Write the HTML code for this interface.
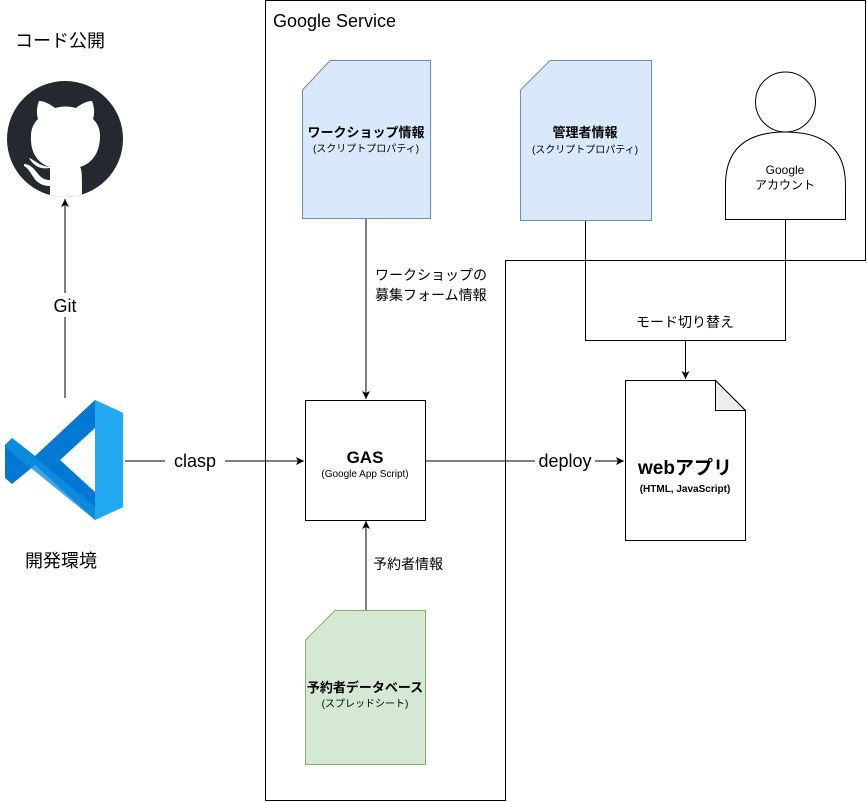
<!DOCTYPE html>
<html><head><meta charset="utf-8"><style>
body{margin:0;background:#fff}
svg{display:block;font-family:"Liberation Sans","Noto Sans CJK JP",sans-serif}
</style></head><body>
<svg width="867" height="802" viewBox="0 0 867 802" xmlns="http://www.w3.org/2000/svg">
<defs><marker id="a" markerWidth="10" markerHeight="10" refX="9" refY="5" orient="auto" markerUnits="userSpaceOnUse"><path d="M1,1 L9,5 L1,9 L3,5 Z" fill="#000"/></marker>
<clipPath id="gc"><circle cx="65" cy="139" r="58"/></clipPath></defs>
<path d="M265.5,0.5 H865.5 V260.5 H505.5 V800.5 H265.5 Z" fill="none" stroke="#000"/>
<text x="273" y="27" font-size="18">Google  Service</text>
<text x="15" y="47" font-size="18">コード公開</text>
<text x="25" y="567" font-size="18">開発環境</text>
<!-- github -->
<circle cx="65" cy="139" r="58" fill="#24292f"/>
<g clip-path="url(#gc)">
<path d="M50,200 L50,168 C38,170 33,164 29,158 C35,160 39,166 50,167 C40,164 30,155 31,136 C31,128 34,123 38,119 C36,113 37,106 39,101 C44,101 50,104 55,108 C62,106 69,106 76,108 C81,104 87,101 92,101 C94,106 95,113 93,119 C97,123 100,128 100,136 C100,155 90,164 80,167 C82,170 82,174 82,200 Z" fill="#fff"/>
<path d="M24,164 C32,164 36,172 40,176 C44,180 48,180 50,180 V186 C44,186 38,184 34,178 C30,172 28,168 24,166 Z" fill="#fff"/>
</g>
<!-- vscode -->
<path d="M95,400 L123,413 V507 L95,520 L35,465 L12,484 L5,478 V445 L12,438 L35,456 Z" fill="#0078d4"/>
<path d="M95,400 L123,413 V507 L95,520 Z" fill="#23a9f2"/>
<path d="M95,428 L60,460 L95,492 Z" fill="#fff"/>
<path d="M12,438 L95,507 L95,520 L5,447 Z" fill="#0f8ee0" opacity="0.8"/>
<!-- lines -->
<line x1="65" y1="398" x2="65" y2="199" stroke="#000" marker-end="url(#a)"/>
<rect x="48" y="293" width="34" height="24" fill="#fff"/>
<text x="65" y="312" font-size="18" text-anchor="middle">Git</text>
<line x1="125" y1="461" x2="304" y2="461" stroke="#000" marker-end="url(#a)"/>
<rect x="165" y="450" width="60" height="22" fill="#fff"/>
<text x="195" y="467" font-size="18" text-anchor="middle">clasp</text>
<line x1="425" y1="461" x2="624" y2="461" stroke="#000" marker-end="url(#a)"/>
<rect x="535" y="450" width="60" height="22" fill="#fff"/>
<text x="565" y="467" font-size="18" text-anchor="middle">deploy</text>
<line x1="366" y1="218" x2="366" y2="399" stroke="#000" marker-end="url(#a)"/>
<text x="375" y="280" font-size="14">ワークショップの</text>
<text x="375" y="300" font-size="14">募集フォーム情報</text>
<line x1="366" y1="610" x2="366" y2="521" stroke="#000" marker-end="url(#a)"/>
<text x="373" y="569" font-size="14">予約者情報</text>
<path d="M585.5,220 V340.5 H785.5 V219" fill="none" stroke="#000"/>
<line x1="685.5" y1="340" x2="685.5" y2="379" stroke="#000" marker-end="url(#a)"/>
<text x="685" y="327" font-size="14" text-anchor="middle">モード切り替え</text>
<!-- docs -->
<path d="M302.5,90 L330,60.5 H430.5 V218.5 H302.5 Z" fill="#dae8fc" stroke="#6c8ebf"/>
<text x="366" y="137" font-size="13" font-weight="bold" text-anchor="middle">ワークショップ情報</text>
<text x="366" y="152" font-size="10" text-anchor="middle">(スクリプトプロパティ)</text>
<path d="M520.5,90 L550,60.5 H651.5 V220.5 H520.5 Z" fill="#dae8fc" stroke="#6c8ebf"/>
<text x="585" y="137" font-size="13" font-weight="bold" text-anchor="middle">管理者情報</text>
<text x="585" y="153" font-size="10" text-anchor="middle">(スクリプトプロパティ)</text>
<path d="M305.5,640 L335,610.5 H425.5 V764.5 H305.5 Z" fill="#d5e8d4" stroke="#82b366"/>
<text x="365" y="692" font-size="13" font-weight="bold" text-anchor="middle">予約者データベース</text>
<text x="365" y="707" font-size="10" text-anchor="middle">(スプレッドシート)</text>
<!-- GAS -->
<rect x="305.5" y="400.5" width="120" height="120" fill="#fff" stroke="#000"/>
<text x="365" y="463" font-size="17" font-weight="bold" text-anchor="middle">GAS</text>
<text x="365" y="477" font-size="10" text-anchor="middle">(Google App Script)</text>
<!-- person -->
<circle cx="785.5" cy="102" r="30" fill="#fff" stroke="#000"/>
<path d="M725.5,219.5 V185 C725.5,150 745,132 785.5,132 C826,132 845.5,150 845.5,185 V219.5 Z" fill="#fff" stroke="#000"/>
<text x="785" y="174" font-size="12" text-anchor="middle">Google</text>
<text x="785" y="189" font-size="12" text-anchor="middle">アカウント</text>
<!-- webapp -->
<path d="M625.5,380.5 H715.5 L745.5,410.5 V540.5 H625.5 Z" fill="#fff" stroke="#000"/>
<path d="M715.5,380.5 V410.5 H745.5 Z" fill="#eee" stroke="#000"/>
<text x="685" y="474" font-size="19" font-weight="bold" text-anchor="middle">webアプリ</text>
<text x="685" y="492" font-size="10" font-weight="bold" text-anchor="middle">(HTML, JavaScript)</text>
</svg>
</body></html>
